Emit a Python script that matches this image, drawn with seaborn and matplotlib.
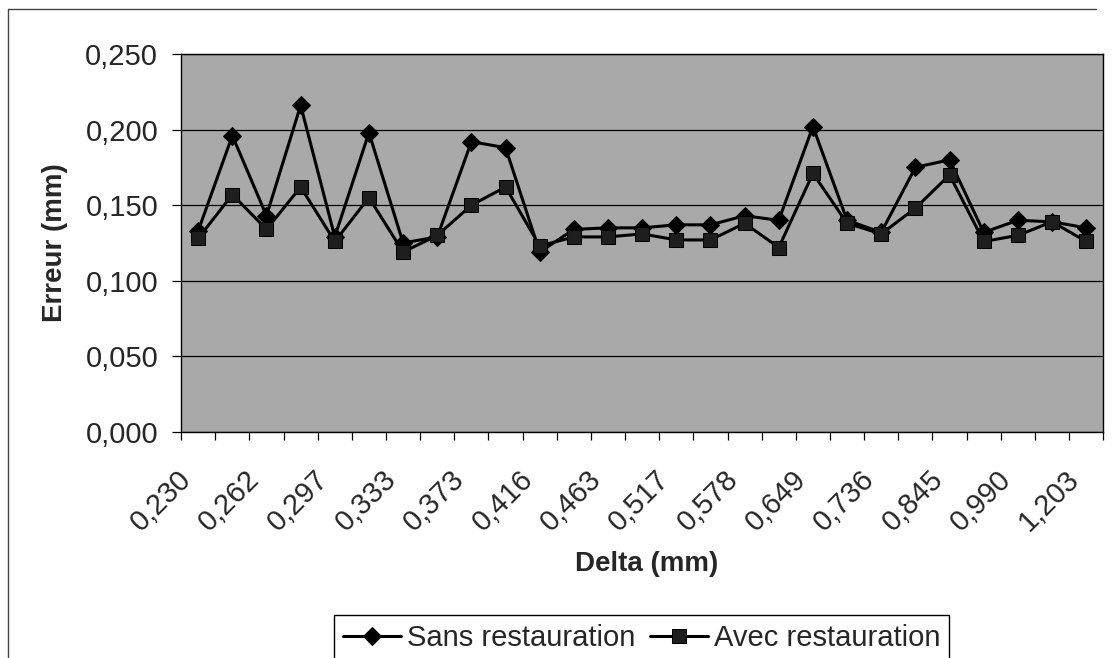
import numpy as np
import pandas as pd
import matplotlib.pyplot as plt
import matplotlib.ticker as mticker
import matplotlib.transforms as mtrans
from matplotlib.lines import Line2D
import seaborn as sns

# 27 mesures, une etiquette sur deux affichee
delta_labels = ['0,230', '0,262', '0,297', '0,333', '0,373', '0,416', '0,463',
                '0,517', '0,578', '0,649', '0,736', '0,845', '0,990', '1,203']
sans_restauration = [0.133, 0.196, 0.143, 0.216, 0.129, 0.198, 0.125, 0.129, 0.192,
                     0.188, 0.119, 0.134, 0.135, 0.135, 0.137, 0.137, 0.143, 0.140,
                     0.202, 0.140, 0.132, 0.175, 0.180, 0.132, 0.140, 0.139, 0.135]
avec_restauration = [0.128, 0.157, 0.134, 0.162, 0.126, 0.155, 0.119, 0.130, 0.150,
                     0.162, 0.123, 0.129, 0.129, 0.131, 0.127, 0.127, 0.138, 0.122,
                     0.171, 0.138, 0.131, 0.148, 0.170, 0.126, 0.130, 0.139, 0.126]

n = len(sans_restauration)
df = pd.DataFrame({'idx': np.arange(n),
                   'sans': sans_restauration,
                   'avec': avec_restauration})

sns.set_theme(style='white')
plt.rcParams['font.family'] = ['Liberation Sans', 'DejaVu Sans']

fig = plt.figure(figsize=(11.18, 6.58), dpi=100)
ax = fig.add_axes([0.162, 0.3435, 0.8248, 0.5745])
ax.set_facecolor('#a9a9a9')

sns.lineplot(data=df, x='idx', y='sans', ax=ax, color='black', lw=2.2,
             marker='D', markersize=8.8, markeredgecolor='black',
             label='Sans restauration')
sns.lineplot(data=df, x='idx', y='avec', ax=ax, color='black', lw=2.2,
             marker='s', markersize=10, markerfacecolor='#1e1e1e',
             markeredgecolor='black', label='Avec restauration')

ax.set_xlim(-0.5, n - 0.5)
ax.set_ylim(0, 0.25)

# y axis
ax.yaxis.set_major_locator(mticker.MultipleLocator(0.05))
ax.yaxis.set_major_formatter(mticker.FuncFormatter(lambda v, p: f'{v:.3f}'.replace('.', ',')))
ax.grid(axis='y', color='black', lw=0.9)
ax.tick_params(axis='y', left=True, length=6.5, width=0.9, color='black',
               pad=10, labelsize=21)

# x axis: ticks between categories, labels one out of two
ax.set_xticks(np.arange(-0.5, n, 1.0))
ax.set_xticklabels([])
ax.tick_params(axis='x', which='major', bottom=True, length=6, width=0.9, color='black')
ax.set_xticks(np.arange(0, n, 2), minor=True)
ax.set_xticklabels(delta_labels, minor=True)
ax.tick_params(axis='x', which='minor', bottom=True, length=0, pad=31, labelsize=21)
off = mtrans.ScaledTranslation(-0.11, 0, fig.dpi_scale_trans)
for lab in ax.get_xticklabels(minor=True):
    lab.set_rotation(45)
    lab.set_rotation_mode('anchor')
    lab.set_ha('right')
    lab.set_va('center')
    lab.set_transform(lab.get_transform() + off)

for s in ax.spines.values():
    s.set_color('black')
    s.set_linewidth(1)

ax.set_xlabel('Delta (mm)', fontsize=20, fontweight='bold')
ax.set_ylabel('Erreur (mm)', fontsize=20, fontweight='bold')
ax.xaxis.set_label_coords(0.505, -0.315)
ax.yaxis.set_label_coords(-0.1226, 0.5)

leg = ax.legend(loc='upper center', bbox_to_anchor=(0.574, 0.065),
                bbox_transform=fig.transFigure, ncol=2, fontsize=21,
                frameon=True, fancybox=False, framealpha=1, edgecolor='black',
                handlelength=2.0, handletextpad=0.2, columnspacing=0.5,
                borderpad=0.3, borderaxespad=0)
leg.get_frame().set_linewidth(1)

# chart area frame (left and top edges visible in the scan)
fig.add_artist(Line2D([0.007, 0.007], [0.0, 0.986], transform=fig.transFigure,
                      color='#444444', lw=1))
fig.add_artist(Line2D([0.007, 0.98], [0.986, 0.986], transform=fig.transFigure,
                      color='#444444', lw=1))

fig.savefig('out.png', dpi=100)
